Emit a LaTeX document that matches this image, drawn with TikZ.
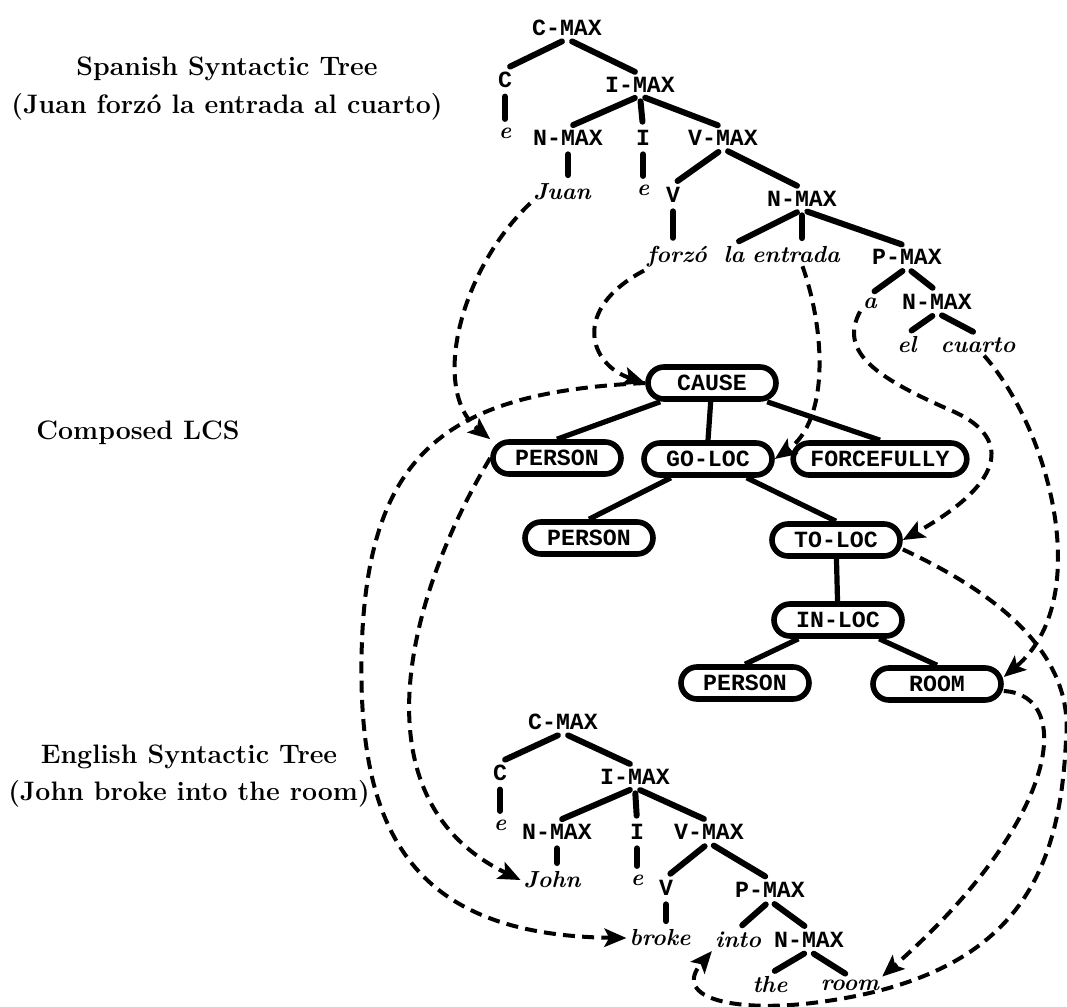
\documentclass[tikz,border=0pt]{standalone}
\usepackage{fontspec}
\setmonofont{Liberation Mono}
\usetikzlibrary{arrows.meta}

\begin{document}
\begin{tikzpicture}[x=0.25mm, y=-0.25mm,
  cat/.style={font=\ttfamily\bfseries\fontsize{16.5}{18}\selectfont, inner sep=2pt},
  word/.style={font=\bfseries\itshape\fontsize{16.5}{20}\selectfont, inner sep=2pt},
  sidelabel/.style={font=\bfseries\fontsize{19}{27}\selectfont, align=center},
  lcs/.style={draw, line width=1.4mm, rounded corners=4mm, minimum width=32mm,
    minimum height=8mm, inner xsep=4.3mm, font=\ttfamily\bfseries\fontsize{16.5}{18}\selectfont},
  treeedge/.style={line width=1.5mm, line cap=round, shorten <=4pt, shorten >=4pt},
  lcsedge/.style={line width=1.3mm},
  mapping/.style={line width=1mm, dash pattern=on 3mm off 1.8mm,
    -{Stealth[length=5.5mm, width=4.6mm, inset=1.2mm]}}]

  \useasboundingbox (0,0) rectangle (1067,1007);

  \node[sidelabel] (lbl-es) at (227,89) {Spanish Syntactic Tree\\(Juan forzó la entrada al cuarto)};
  \node[sidelabel] (lbl-lcs) at (138,433) {Composed LCS};
  \node[sidelabel] (lbl-en) at (189,776) {English Syntactic Tree\\(John broke into the room)};

  % Spanish tree
  \node[cat] (s-cmax) at (567,28) {C-MAX};
  \node[cat] (s-c) at (505,80) {C};
  \node[word] (s-ce) at (505,133) {e};
  \node[cat] (s-imax) at (640,85) {I-MAX};
  \node[cat] (s-nmax) at (568,138) {N-MAX};
  \node[cat] (s-i) at (643,138) {I};
  \node[cat] (s-vmax) at (723,138) {V-MAX};
  \node[word] (s-juan) at (562,192) {Juan};
  \node[word] (s-ie) at (643,190) {e};
  \node[cat] (s-v) at (673,195) {V};
  \node[word] (s-forzo) at (677,257) {forzó};
  \node[cat] (s-nmax2) at (802,199) {N-MAX};
  \node[word] (s-la) at (734,255) {la};
  \node[word] (s-entrada) at (796,255) {entrada};
  \node[cat] (s-pmax) at (907,257) {P-MAX};
  \node[word] (s-a) at (870,303) {a};
  \node[cat] (s-nmax3) at (937,302) {N-MAX};
  \node[word] (s-el) at (907,345) {el};
  \node[word] (s-cuarto) at (978,345) {cuarto};

  \draw[treeedge] (s-cmax.south) -- (s-c.north);
  \draw[treeedge] (s-cmax.south) -- (s-imax.north);
  \draw[treeedge] (s-c.south) -- (s-c.south |- s-ce.north);
  \draw[treeedge] (s-imax.south) -- (s-nmax.north);
  \draw[treeedge] (s-imax.south) -- (s-i.north);
  \draw[treeedge] (s-imax.south) -- (s-vmax.north);
  \draw[treeedge] (s-nmax.south) -- (s-nmax.south |- s-juan.north);
  \draw[treeedge] (s-i.south) -- (s-i.south |- s-ie.north);
  \draw[treeedge] (s-vmax.south) -- (s-v.north);
  \draw[treeedge] (s-vmax.south) -- (s-nmax2.north);
  \draw[treeedge] (s-v.south) -- (s-v.south |- s-forzo.north);
  \draw[treeedge] (s-nmax2.south) -- (s-la.north);
  \draw[treeedge] (s-nmax2.south) -- (s-nmax2.south |- s-entrada.north);
  \draw[treeedge] (s-nmax2.south) -- (s-pmax.north);
  \draw[treeedge] (s-pmax.south) -- (s-a.north);
  \draw[treeedge] (s-pmax.south) -- (s-nmax3.north);
  \draw[treeedge] (s-nmax3.south) -- (s-el.north);
  \draw[treeedge] (s-nmax3.south) -- (s-cuarto.north);

  % composed LCS
  \node[lcs] (cause) at (712,383) {CAUSE};
  \node[lcs] (person1) at (557,458) {PERSON};
  \node[lcs] (goloc) at (708,459) {GO-LOC};
  \node[lcs] (forcefully) at (880,459) {FORCEFULLY};
  \node[lcs] (person2) at (589,538) {PERSON};
  \node[lcs] (toloc) at (836,540) {TO-LOC};
  \node[lcs] (inloc) at (838,620) {IN-LOC};
  \node[lcs] (person3) at (745,683) {PERSON};
  \node[lcs] (room) at (937,684) {ROOM};

  \draw[lcsedge] (cause) -- (person1.north);
  \draw[lcsedge] (cause) -- (goloc.north);
  \draw[lcsedge] (cause) -- (forcefully.north);
  \draw[lcsedge] (goloc) -- (person2.north);
  \draw[lcsedge] (goloc) -- (toloc.north);
  \draw[lcsedge] (toloc) -- (inloc);
  \draw[lcsedge] (inloc) -- (person3.north);
  \draw[lcsedge] (inloc) -- (room.north);

  % English tree
  \node[cat] (e-cmax) at (563,722) {C-MAX};
  \node[cat] (e-c) at (500,773) {C};
  \node[word] (e-ce) at (500,825) {e};
  \node[cat] (e-imax) at (635,777) {I-MAX};
  \node[cat] (e-nmax) at (557,832) {N-MAX};
  \node[cat] (e-i) at (637,832) {I};
  \node[cat] (e-vmax) at (709,832) {V-MAX};
  \node[word] (e-john) at (552,880) {John};
  \node[word] (e-ie) at (637,880) {e};
  \node[cat] (e-v) at (666,888) {V};
  \node[cat] (e-pmax) at (770,890) {P-MAX};
  \node[word] (e-broke) at (660,938) {broke};
  \node[word] (e-into) at (738,940) {into};
  \node[cat] (e-nmax2) at (809,940) {N-MAX};
  \node[word] (e-the) at (770,985) {the};
  \node[word] (e-room) at (850,985) {room};

  \draw[treeedge] (e-cmax.south) -- (e-c.north);
  \draw[treeedge] (e-cmax.south) -- (e-imax.north);
  \draw[treeedge] (e-c.south) -- (e-c.south |- e-ce.north);
  \draw[treeedge] (e-imax.south) -- (e-nmax.north);
  \draw[treeedge] (e-imax.south) -- (e-i.north);
  \draw[treeedge] (e-imax.south) -- (e-vmax.north);
  \draw[treeedge] (e-nmax.south) -- (e-nmax.south |- e-john.north);
  \draw[treeedge] (e-i.south) -- (e-i.south |- e-ie.north);
  \draw[treeedge] (e-vmax.south) -- (e-v.north);
  \draw[treeedge] (e-vmax.south) -- (e-pmax.north);
  \draw[treeedge] (e-v.south) -- (e-v.south |- e-broke.north);
  \draw[treeedge] (e-pmax.south) -- (e-into.north);
  \draw[treeedge] (e-pmax.south) -- (e-nmax2.north);
  \draw[treeedge] (e-nmax2.south) -- (e-the.north);
  \draw[treeedge] (e-nmax2.south) -- (e-room.north);

  % dashed mappings
  \draw[mapping] (s-juan.south west) .. controls (460,270) and (430,390) .. (person1.north west);
  \draw[mapping] (s-forzo.south west) .. controls (570,310) and (590,365) .. (cause.west);
  \draw[mapping] (s-entrada.-60) .. controls (825,330) and (830,420) .. (goloc.east);
  \draw[mapping] (s-a.south west) .. controls (840,350) and (870,375) .. (950,410)
    .. controls (1010,435) and (1010,480) .. (toloc.east);
  \draw[mapping] (s-cuarto.-60) .. controls (1050,430) and (1095,600) .. (room.6);
  \draw[mapping] (cause.west) .. controls (450,392) and (370,450) .. (362,640)
    .. controls (355,830) and (410,935) .. (e-broke.west);
  \draw[mapping] (person1.west) .. controls (405,600) and (355,800) .. (e-john.west);
  \draw[mapping] (toloc.-8) .. controls (990,590) and (1075,650) .. (1066,740)
    .. controls (1060,870) and (1020,975) .. (820,1002)
    .. controls (740,1013) and (670,1000) .. (e-into.south west);
  \draw[mapping] (room.-6) .. controls (1075,695) and (1060,820) .. (e-room.north east);
\end{tikzpicture}
\end{document}
